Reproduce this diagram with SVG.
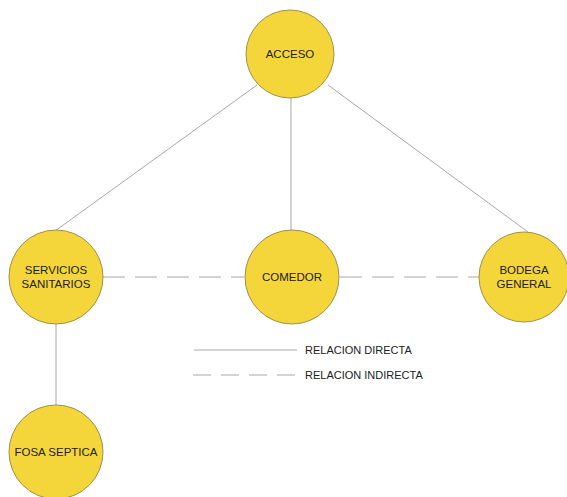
<svg xmlns="http://www.w3.org/2000/svg" width="567" height="497" viewBox="0 0 567 497">
<style>
.n{fill:#F5D63A;stroke:#A09050;stroke-width:1}
.t{font-family:"Liberation Sans",Arial,sans-serif;font-size:11.5px;fill:#222;text-anchor:middle}
.l{font-family:"Liberation Sans",Arial,sans-serif;font-size:11px;fill:#222}
.s{stroke:#A8A8A8;stroke-width:1;fill:none}
.d{stroke:#A8A8A8;stroke-width:1;fill:none;stroke-dasharray:22 10}
</style>
<rect width="567" height="497" fill="#fff"/>
<g id="connectors">
<line class="s" x1="257" y1="85" x2="55" y2="231"/>
<line class="s" x1="291" y1="97" x2="291" y2="231"/>
<line class="s" x1="328" y1="85" x2="528" y2="232"/>
<line class="d" x1="103" y1="277" x2="244" y2="277"/>
<line class="d" x1="340" y1="277" x2="481" y2="277"/>
<line class="s" x1="56" y1="323" x2="56" y2="406"/>
</g>
<g id="acceso"><circle class="n" cx="290" cy="54" r="44"/><text class="t" x="290" y="58">ACCESO</text></g>
<g id="servicios"><circle class="n" cx="56" cy="277" r="47"/><text class="t" x="56" y="274">SERVICIOS</text><text class="t" x="56" y="288">SANITARIOS</text></g>
<g id="comedor"><circle class="n" cx="292" cy="277" r="47"/><text class="t" x="292" y="281">COMEDOR</text></g>
<g id="bodega"><circle class="n" cx="524" cy="277" r="45"/><text class="t" x="524" y="274">BODEGA</text><text class="t" x="524" y="288">GENERAL</text></g>
<g id="fosa"><circle class="n" cx="56" cy="452" r="47"/><text class="t" x="56" y="456">FOSA SEPTICA</text></g>
<g id="legend">
<line class="s" x1="194" y1="350" x2="297" y2="350"/>
<text class="l" x="305" y="354">RELACION DIRECTA</text>
<line class="d" x1="193" y1="375" x2="297" y2="375" style="stroke-dasharray:18 10"/>
<text class="l" x="305" y="379">RELACION INDIRECTA</text>
</g>
</svg>
